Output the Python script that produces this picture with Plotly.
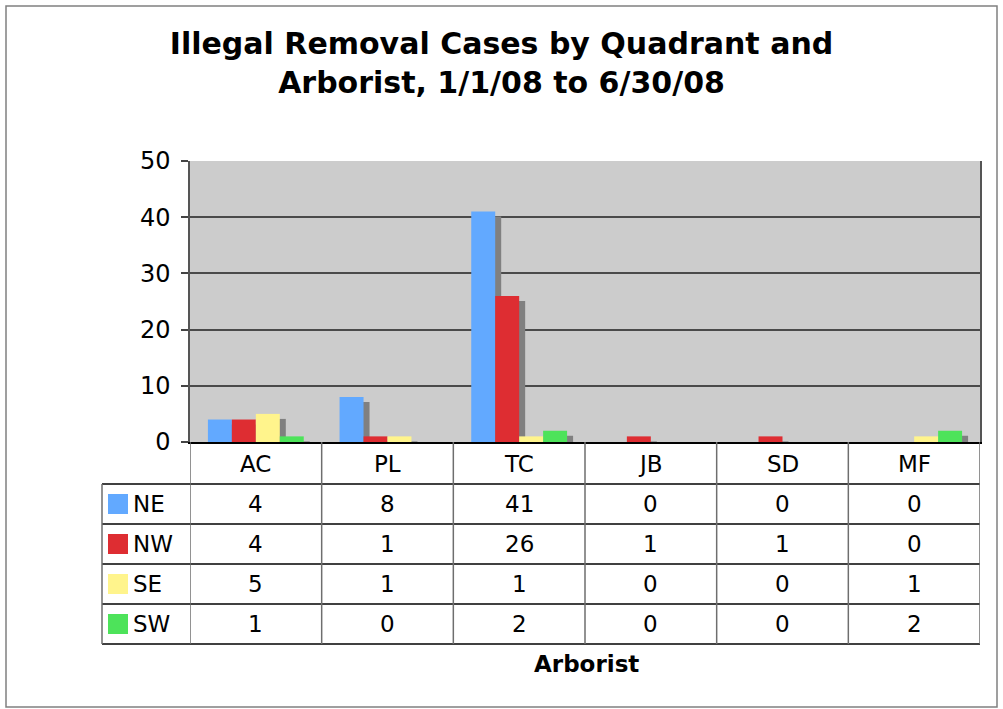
import plotly.graph_objects as go

# ---------------------------------------------------------------------------
# Data
# ---------------------------------------------------------------------------
arborists = ["AC", "PL", "TC", "JB", "SD", "MF"]
quadrants = ["NE", "NW", "SE", "SW"]
ne_cases = [4, 8, 41, 0, 0, 0]
nw_cases = [4, 1, 26, 1, 1, 0]
se_cases = [5, 1, 1, 0, 0, 1]
sw_cases = [1, 0, 2, 0, 0, 2]
y_ticks = [0, 10, 20, 30, 40, 50]

series = [ne_cases, nw_cases, se_cases, sw_cases]
colors = ["#62A9FF", "#DE2D32", "#FFF48C", "#4DE35A"]

# ---------------------------------------------------------------------------
# Geometry (pixels in a 1003x709 page)
# ---------------------------------------------------------------------------
W, H = 1003, 709
PLOT_L, PLOT_R, PLOT_T, PLOT_B = 190, 980, 161, 442
LEG_L = 102
ROW_H = 40
HEADER_B = 484
FONT = "DejaVu Sans"


def px_x(px):
    return (px - PLOT_L) / (PLOT_R - PLOT_L)


def px_y(py):
    return (PLOT_B - py) / (PLOT_B - PLOT_T)


bar_w = 0.182
start = -2 * bar_w
shadow_dx = 6 / ((PLOT_R - PLOT_L) / len(arborists))
shadow_dy = 5 / ((PLOT_B - PLOT_T) / 50)

fig = go.Figure()

# gray drop shadows first, bars on top
for i, vals in enumerate(series):
    fig.add_trace(go.Bar(
        x=arborists, y=vals, base=-shadow_dy,
        width=bar_w, offset=start + i * bar_w + shadow_dx,
        marker=dict(color="#808080", line=dict(width=0)),
        showlegend=False, hoverinfo="skip",
    ))
for i, (name, vals) in enumerate(zip(quadrants, series)):
    fig.add_trace(go.Bar(
        x=arborists, y=vals, name=name,
        width=bar_w, offset=start + i * bar_w,
        marker=dict(color=colors[i], line=dict(width=0)),
        showlegend=False,
    ))

shapes = []
annotations = []
txt_font = dict(family=FONT, size=23, color="#000000")

# data table: horizontal rules
for k in range(5):
    yy = HEADER_B + k * ROW_H
    shapes.append(dict(type="line", xref="paper", yref="paper",
                       x0=px_x(LEG_L), x1=1, y0=px_y(yy), y1=px_y(yy),
                       line=dict(color="#000000", width=1.5)))
# vertical rules at category boundaries
for j in range(len(arborists) + 1):
    shapes.append(dict(type="line", xref="x", yref="paper",
                       x0=j - 0.5, x1=j - 0.5,
                       y0=0, y1=px_y(HEADER_B + 4 * ROW_H),
                       line=dict(color="#6E6E6E", width=1.5)))
shapes.append(dict(type="line", xref="paper", yref="paper",
                   x0=px_x(LEG_L), x1=px_x(LEG_L),
                   y0=px_y(HEADER_B), y1=px_y(HEADER_B + 4 * ROW_H),
                   line=dict(color="#6E6E6E", width=1.5)))

# header row
for a in arborists:
    annotations.append(dict(x=a, xref="x", y=px_y(464), yref="paper",
                            xanchor="center", yanchor="middle",
                            text=a, showarrow=False, font=txt_font))

# value rows + legend keys
for r, (name, vals) in enumerate(zip(quadrants, series)):
    cy = HEADER_B + r * ROW_H + ROW_H / 2
    for a, v in zip(arborists, vals):
        annotations.append(dict(x=a, xref="x", y=px_y(cy), yref="paper",
                                xanchor="center", yanchor="middle",
                                text=str(v), showarrow=False, font=txt_font))
    shapes.append(dict(type="rect", xref="paper", yref="paper",
                       x0=px_x(108), x1=px_x(128),
                       y0=px_y(cy - 10), y1=px_y(cy + 10),
                       fillcolor=colors[r], line=dict(width=0)))
    annotations.append(dict(x=px_x(131), xref="paper", y=px_y(cy), yref="paper",
                            xanchor="left", yanchor="middle",
                            text=name, showarrow=False, font=txt_font))

# axis title
annotations.append(dict(x=px_x(586), xref="paper", y=px_y(664), yref="paper",
                        xanchor="center", yanchor="middle",
                        text="<b>Arborist</b>", showarrow=False, font=txt_font))

# outer chart border
shapes.append(dict(type="rect", xref="paper", yref="paper",
                   x0=px_x(6), x1=px_x(997), y0=px_y(707), y1=px_y(6),
                   line=dict(color="#808080", width=1.5), layer="below"))

fig.update_layout(
    width=W, height=H,
    margin=dict(l=PLOT_L, r=W - PLOT_R, t=PLOT_T, b=H - PLOT_B, pad=0),
    paper_bgcolor="#FFFFFF",
    plot_bgcolor="#CCCCCC",
    barmode="overlay",
    title=dict(
        text="<b>Illegal Removal Cases by Quadrant and<br>Arborist, 1/1/08 to 6/30/08</b>",
        x=0.5, xref="container", xanchor="center",
        y=1 - 54 / H, yref="container", yanchor="top",
        font=dict(family=FONT, size=30, color="#000000"),
    ),
    xaxis=dict(
        type="category", range=[-0.5, 5.5],
        showticklabels=False, ticks="",
        showgrid=False, zeroline=False,
        showline=True, linecolor="#000000", linewidth=1.5, mirror=False,
    ),
    yaxis=dict(
        range=[0, 50], tickvals=y_ticks,
        ticks="outside", ticklen=7, tickcolor="#444444", tickwidth=1.5,
        ticklabelstandoff=6,
        showgrid=True, gridcolor="#4A4A4A", gridwidth=1.5,
        zeroline=False,
        showline=True, linecolor="#555555", linewidth=1.5, mirror=True,
        tickfont=dict(family=FONT, size=24, color="#000000"),
    ),
    shapes=shapes,
    annotations=annotations,
)

fig.write_html(
    "out.html",
    config={"displayModeBar": False},
    post_script="document.body.style.margin='0';",
)
